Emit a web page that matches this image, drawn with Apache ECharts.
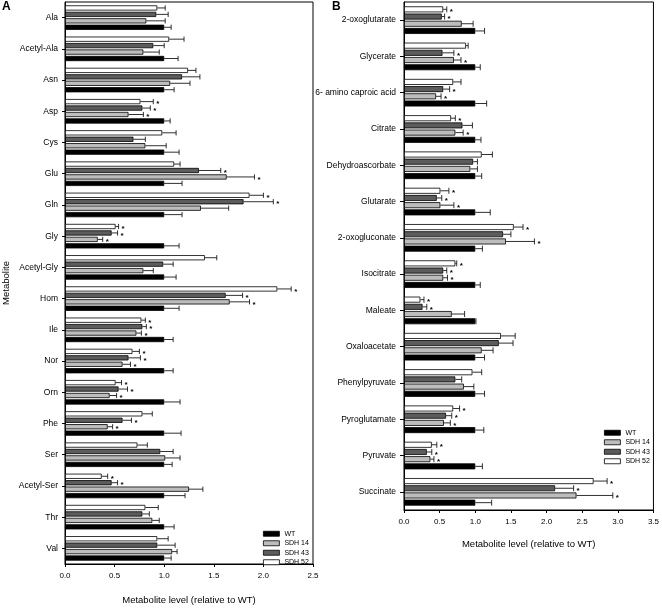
<!DOCTYPE html>
<html><head><meta charset="utf-8">
<script src="https://cdn.jsdelivr.net/npm/echarts@6/dist/echarts.min.js"></script>
<style>html,body{margin:0;padding:0;background:#fff}#c{width:662px;height:610px}</style>
</head><body><div id="c"></div>
<script>
// ---------- data ----------
const seriesNames = ['WT', 'SDH 14', 'SDH 43', 'SDH 52'];
const xTicksA = [0, 0.5, 1.0, 1.5, 2.0, 2.5];
const xTicksB = [0, 0.5, 1.0, 1.5, 2.0, 2.5, 3.0, 3.5];

const catA = ['Ala','Acetyl-Ala','Asn','Asp','Cys','Glu','Gln','Gly','Acetyl-Gly','Hom','Ile','Nor','Orn','Phe','Ser','Acetyl-Ser','Thr','Val'];
const A_WT      = [1,1,1,1,1,1,1,1,1,1,1,1,1,1,1,1,1,1];
const A_WT_err  = [0.07,0.14,0.10,0.06,0.15,0.18,0.18,0.15,0.12,0.15,0.09,0.09,0.16,0.17,0.08,0.21,0.10,0.07];
const A_WT_sig  = [0,0,0,0,0,0,0,0,0,0,0,0,0,0,0,0,0,0];
const A_S14     = [0.82,0.79,1.06,0.64,0.81,1.63,1.37,0.33,0.79,1.66,0.72,0.58,0.45,0.43,1.01,1.25,0.88,1.08];
const A_S14_err = [0.19,0.16,0.20,0.15,0.21,0.28,0.28,0.05,0.10,0.20,0.05,0.08,0.07,0.05,0.15,0.14,0.07,0.05];
const A_S14_sig = [0,0,0,1,0,1,0,1,0,1,1,1,1,1,0,0,0,0];
const A_S43     = [0.92,0.89,1.18,0.78,0.69,1.35,1.80,0.47,0.99,1.62,0.78,0.64,0.54,0.58,0.96,0.47,0.78,0.93];
const A_S43_err = [0.12,0.11,0.18,0.08,0.12,0.22,0.30,0.06,0.10,0.17,0.04,0.12,0.09,0.09,0.13,0.06,0.07,0.18];
const A_S43_sig = [0,0,0,1,0,1,1,1,0,1,1,1,1,1,0,1,0,0];
const A_S52     = [0.93,1.05,1.24,0.76,0.98,1.10,1.86,0.51,1.41,2.14,0.77,0.68,0.51,0.78,0.73,0.37,0.81,0.93];
const A_S52_err = [0.08,0.15,0.08,0.13,0.14,0.06,0.14,0.03,0.12,0.14,0.04,0.07,0.06,0.10,0.10,0.06,0.13,0.11];
const A_S52_sig = [0,0,0,1,0,0,1,1,0,1,1,1,1,0,0,1,0,0];

const catB = ['2-oxoglutarate','Glycerate','6- amino caproic acid','Citrate','Dehydroascorbate','Glutarate','2-oxogluconate','Isocitrate','Maleate','Oxaloacetate','Phenylpyruvate','Pyroglutamate','Pyruvate','Succinate'];
const B_WT      = [1,1,1,1,1,1,1,1,1,1,1,1,1,1];
const B_WT_err  = [0.13,0.07,0.16,0.08,0.09,0.21,0.10,0.07,0.01,0.13,0.13,0.12,0.10,0.23];
const B_WT_sig  = [0,0,0,0,0,0,0,0,0,0,0,0,0,0];
const B_S14     = [0.81,0.70,0.45,0.72,0.93,0.51,1.43,0.55,0.67,1.09,0.84,0.56,0.37,2.42];
const B_S14_err = [0.16,0.10,0.07,0.11,0.10,0.19,0.40,0.06,0.18,0.16,0.14,0.09,0.05,0.51];
const B_S14_sig = [0,1,1,1,0,1,1,1,0,0,0,1,1,1];
const B_S43     = [0.53,0.54,0.55,0.82,0.97,0.46,1.39,0.55,0.26,1.33,0.72,0.59,0.32,2.12];
const B_S43_err = [0.04,0.16,0.09,0.14,0.06,0.07,0.11,0.05,0.06,0.20,0.09,0.08,0.07,0.26];
const B_S43_sig = [1,1,1,0,0,1,0,1,1,0,0,1,1,1];
const B_S52     = [0.55,0.87,0.69,0.66,1.09,0.51,1.54,0.72,0.23,1.36,0.96,0.69,0.39,2.66];
const B_S52_err = [0.05,0.03,0.11,0.06,0.15,0.12,0.13,0.02,0.05,0.20,0.13,0.09,0.07,0.19];
const B_S52_sig = [1,0,0,1,0,1,1,1,1,0,0,1,1,1];

// ---------- styles ----------
const FONT = 'Liberation Sans, Arial, Helvetica, sans-serif';
const fills = {'WT':'#000000','SDH 14':'#bdbdbd','SDH 43':'#5c5c5c','SDH 52':'#ffffff'};
// slot order in each group, top to bottom
const slotOrder = ['SDH 52','SDH 43','SDH 14','WT'];

const panels = [
  {cats: catA, bw: 5.2, gap: 0.24, data: {
    'WT':[A_WT,A_WT_err,A_WT_sig], 'SDH 14':[A_S14,A_S14_err,A_S14_sig],
    'SDH 43':[A_S43,A_S43_err,A_S43_sig], 'SDH 52':[A_S52,A_S52_err,A_S52_sig]}},
  {cats: catB, bw: 6.0, gap: 0.2, data: {
    'WT':[B_WT,B_WT_err,B_WT_sig], 'SDH 14':[B_S14,B_S14_err,B_S14_sig],
    'SDH 43':[B_S43,B_S43_err,B_S43_sig], 'SDH 52':[B_S52,B_S52_err,B_S52_sig]}}
];

function makeErr(slot, bw, gap) {
  return function (params, api) {
    const v = api.value(0), c = api.value(1), e = api.value(2), s = api.value(3);
    const p0 = api.coord([v, c]);
    const p1 = api.coord([v + e, c]);
    const pitch = bw * (1 + gap);
    const total = 4 * bw + 3 * bw * gap;
    const y = p0[1] - total / 2 + slot * pitch + bw / 2;
    const st = {stroke: '#1a1a1a', lineWidth: 0.9};
    const children = [
      {type: 'line', shape: {x1: p0[0], y1: y, x2: p1[0], y2: y}, style: st},
      {type: 'line', shape: {x1: p1[0], y1: y - bw / 2, x2: p1[0], y2: y + bw / 2}, style: st}
    ];
    if (s) children.push({type: 'text', style: {text: '*', x: p1[0] + 3, y: y + 2.5,
      font: 'bold 8px ' + FONT, fill: '#000', verticalAlign: 'middle'}});
    return {type: 'group', children: children};
  };
}

const series = [];
panels.forEach(function (p, pi) {
  slotOrder.forEach(function (name, slot) {
    const d = p.data[name];
    series.push({
      type: 'bar', name: name, xAxisIndex: pi, yAxisIndex: pi,
      data: d[0], barWidth: p.bw, barGap: (p.gap * 100) + '%',
      itemStyle: {color: fills[name], borderColor: '#000', borderWidth: 0.8},
      emphasis: {disabled: true}, animation: false
    });
  });
  slotOrder.forEach(function (name, slot) {
    const d = p.data[name];
    series.push({
      type: 'custom', name: 'err-' + name, xAxisIndex: pi, yAxisIndex: pi,
      renderItem: makeErr(slot, p.bw, p.gap),
      data: d[0].map(function (v, i) { return [v, i, d[1][i], d[2][i]]; }),
      encode: {x: 0, y: 1}, z: 5, clip: false, animation: false, silent: true
    });
  });
});

function xAxis(gi, max, margin, nameGap) {
  return {
    type: 'value', gridIndex: gi, min: 0, max: max, interval: 0.5,
    axisLine: {show: true, lineStyle: {color: '#000', width: 1}},
    axisTick: {show: true, inside: false, length: 3, lineStyle: {color: '#000'}},
    axisLabel: {fontSize: 8, color: '#000', fontFamily: FONT, margin: margin,
      formatter: function (v) { return v.toFixed(1); }},
    splitLine: {show: false},
    name: 'Metabolite level (relative to WT)', nameLocation: 'middle', nameGap: nameGap,
    nameTextStyle: {fontSize: 9.5, color: '#000', fontFamily: FONT}
  };
}
function yAxis(gi, cats, margin, tickLen, extra) {
  return Object.assign({
    type: 'category', gridIndex: gi, data: cats, inverse: true,
    axisLine: {show: true, lineStyle: {color: '#000', width: 1}},
    axisTick: {show: true, alignWithLabel: true, length: tickLen, lineStyle: {color: '#000'}},
    axisLabel: {fontSize: 8.5, color: '#000', fontFamily: FONT, margin: margin},
    splitLine: {show: false}
  }, extra || {});
}

const legendCommon = {
  data: seriesNames, orient: 'vertical', icon: 'rect', itemWidth: 16, itemHeight: 5,
  itemGap: 2, selectedMode: false,
  itemStyle: {borderColor: '#000', borderWidth: 0.8},
  textStyle: {fontSize: 7, color: '#000', fontFamily: FONT, lineHeight: 7.5}
};

const option = {
  animation: false,
  backgroundColor: '#fff',
  textStyle: {fontFamily: FONT},
  grid: [
    {left: 62, right: 349, top: 2, bottom: 39, show: true, borderColor: '#000', borderWidth: 1, containLabel: false},
    {left: 404, right: 7, top: 2, bottom: 100, show: true, borderColor: '#000', borderWidth: 1, containLabel: false}
  ],
  xAxis: [xAxis(0, 2.5, 8, 31), xAxis(1, 3.5, 8, 29)],
  yAxis: [
    yAxis(0, catA, 7, 3, {name: 'Metabolite', nameLocation: 'middle', nameGap: 54, nameRotate: 90,
      nameTextStyle: {fontSize: 9.5, color: '#000', fontFamily: FONT}}),
    yAxis(1, catB, 8, 4)
  ],
  legend: [
    Object.assign({left: 258, top: 525}, legendCommon),
    Object.assign({left: 599, top: 424}, legendCommon)
  ],
  graphic: [
    {type: 'text', left: 2, top: 1, style: {text: 'A', font: 'bold 12px ' + FONT, fill: '#000'}},
    {type: 'text', left: 332, top: 1, style: {text: 'B', font: 'bold 12px ' + FONT, fill: '#000'}}
  ],
  series: series
};

const chart = echarts.init(document.getElementById('c'), null, {renderer: 'canvas'});
chart.setOption(option);
</script>
</body></html>
